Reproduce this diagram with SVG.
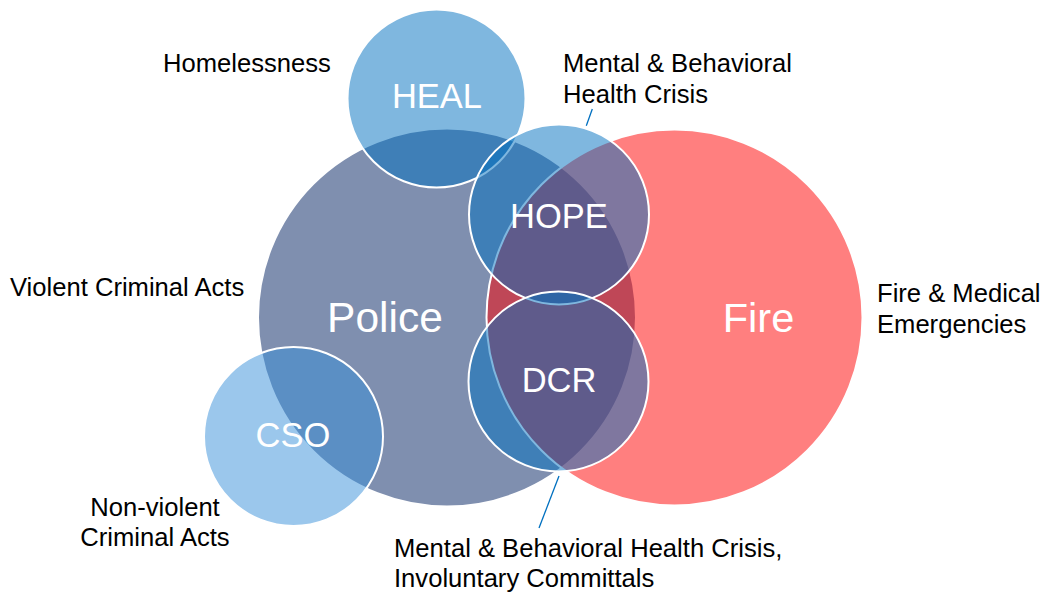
<svg xmlns="http://www.w3.org/2000/svg" width="1047" height="594" viewBox="0 0 1047 594">
<style>
.c{stroke:#ffffff;stroke-width:2}
.in{font-family:"Liberation Sans",Arial,sans-serif;fill:#ffffff;text-anchor:middle}
.out{font-family:"Liberation Sans",Arial,sans-serif;fill:#000000;font-size:25.6px}
.lead{stroke:#0070C0;stroke-width:1.3;fill:none}
</style>
<rect width="1047" height="594" fill="#ffffff"/>
<g id="police">
<circle class="c" cx="447" cy="317.5" r="189" fill="#002060" fill-opacity="0.5"/>
<text class="in" x="385" y="332" font-size="42.5">Police</text>
</g>
<g id="fire">
<circle class="c" cx="674.5" cy="317.5" r="188" fill="#ff0000" fill-opacity="0.5"/>
<text class="in" x="758.5" y="332" font-size="41.5">Fire</text>
</g>
<g id="heal">
<circle class="c" cx="436.5" cy="98.5" r="89" fill="#0070C0" fill-opacity="0.5"/>
<text class="in" x="437" y="108" font-size="34.5">HEAL</text>
</g>
<g id="hope">
<circle class="c" cx="559" cy="214.5" r="90" fill="#0070C0" fill-opacity="0.5"/>
<text class="in" x="559" y="228" font-size="34.5">HOPE</text>
</g>
<g id="dcr">
<circle class="c" cx="558.5" cy="381.5" r="90" fill="#0070C0" fill-opacity="0.5"/>
<text class="in" x="559" y="392" font-size="34.5">DCR</text>
</g>
<g id="cso">
<circle class="c" cx="293.5" cy="436.5" r="89.5" fill="rgb(55,143,217)" fill-opacity="0.5"/>
<text class="in" x="293" y="447" font-size="34.5">CSO</text>
</g>
<g id="connectors">
<line class="lead" x1="592.3" y1="109" x2="586.3" y2="125.7"/>
<line class="lead" x1="559" y1="476" x2="539" y2="528"/>
</g>
<g id="labels">
<text class="out" x="163" y="72">Homelessness</text>
<text class="out" x="563" y="72">Mental &amp; Behavioral</text>
<text class="out" x="563" y="103">Health Crisis</text>
<text class="out" x="10" y="296">Violent Criminal Acts</text>
<text class="out" x="877" y="302">Fire &amp; Medical</text>
<text class="out" x="877" y="333">Emergencies</text>
<text class="out" x="155" y="516" text-anchor="middle">Non-violent</text>
<text class="out" x="155" y="546" text-anchor="middle">Criminal Acts</text>
<text class="out" x="394" y="557">Mental &amp; Behavioral Health Crisis,</text>
<text class="out" x="394" y="587">Involuntary Committals</text>
</g>
</svg>
